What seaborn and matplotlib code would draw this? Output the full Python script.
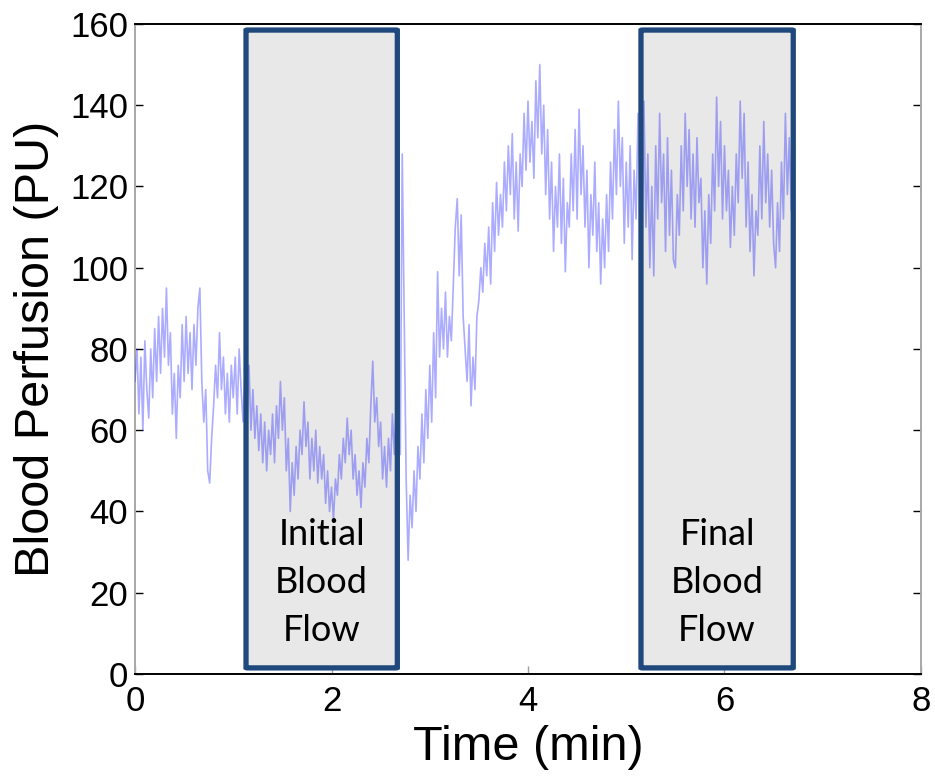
import numpy as np
import pandas as pd
import matplotlib
matplotlib.use("Agg")
import matplotlib.pyplot as plt
from matplotlib.patches import FancyBboxPatch
import seaborn as sns

# Laser-Doppler perfusion trace, sampled every 0.02 min, split into runs
SAMPLE_STEP = 0.02

baseline_start = 0.00
baseline = [72, 80, 64, 78, 60, 82, 70, 63, 80, 68, 85, 72, 88, 74, 90, 78, 95,
            76, 84, 64, 74, 58, 76, 68, 86,
            72, 88, 74, 84, 70, 86, 76, 90, 95, 72, 62, 70, 50, 47, 58, 66, 76,
            68, 84, 70, 78, 64, 74, 62, 76, 68, 78, 64, 80, 70, 62, 74]

occlusion_start = 1.14
occlusion = [62, 76, 60, 70, 58, 66, 55, 64, 52, 62, 50, 60, 54, 64, 52, 66, 58,
             72, 60, 68, 50, 58, 40, 52, 44, 56, 48, 60, 54, 67, 56, 62, 48, 58,
             50, 60, 47, 56, 48, 54, 42, 50, 40, 46, 38, 48, 44, 54, 48, 58, 52,
             63, 54, 60, 48, 54, 44, 50, 41, 52, 46, 58, 52, 66, 77, 62, 68, 56,
             62, 48, 56, 46, 58, 50, 64, 54, 68]

release_start = 2.68
release = [62, 54, 128, 89, 48, 28, 44, 36, 50, 40, 56, 48, 64, 52, 70, 58, 76,
           62, 84, 68, 99, 78, 90, 80, 94, 78, 88, 82, 96, 110, 117, 98, 113, 88,
           80, 72, 86, 66, 78, 70, 88]

hyperemia_start = 3.50
hyperemia = [92, 100, 94, 106, 98, 110, 96, 116, 104, 121, 108, 118, 110, 126,
             114, 130, 118, 133, 112, 126, 109, 128, 120, 138, 124, 141, 126, 136,
             122, 146, 132, 150, 128, 140, 118, 134, 112, 126, 104, 120, 110, 128,
             106, 122, 99, 116, 110, 128, 114, 134, 112, 139, 118, 130, 110, 124,
             100, 118, 108, 126, 104, 116, 96, 112, 100, 118, 104, 126, 112, 134,
             118, 141, 120, 132, 106, 126, 110, 130, 102, 124, 112, 138, 118]

plateau_start = 5.16
plateau = [104, 141, 110, 128, 100, 120, 98, 130, 112, 138, 116, 128, 104, 132,
           108, 124, 102, 100, 118, 108, 130, 114, 138, 120, 134, 112, 128, 110,
           132, 116, 122, 100, 114, 96, 118, 106, 128, 114, 142, 120, 136, 112,
           130, 114, 124, 105, 120, 108, 128, 116, 141, 122, 138, 110, 126, 104,
           118, 98, 114, 108, 130, 112, 136, 116, 128, 110, 124, 106, 100, 116,
           104, 126, 112, 138, 118, 132, 114]

# Shaded analysis windows (time span in min)
window_labels = ["Initial\nBlood\nFlow", "Final\nBlood\nFlow"]
window_starts = [1.13, 5.15]
window_ends = [2.67, 6.70]

x_ticks = [0, 2, 4, 6, 8]
y_ticks = [0, 20, 40, 60, 80, 100, 120, 140, 160]

runs = [(baseline_start, baseline), (occlusion_start, occlusion),
        (release_start, release), (hyperemia_start, hyperemia),
        (plateau_start, plateau)]
frames = []
for start, vals in runs:
    t = start + SAMPLE_STEP * np.arange(len(vals))
    frames.append(pd.DataFrame({"time": t, "perfusion": vals}))
trace = pd.concat(frames, ignore_index=True)

sns.set_theme(style="white")
plt.rcParams["font.family"] = ["Liberation Sans", "DejaVu Sans"]
plt.rcParams["text.color"] = "black"
plt.rcParams["axes.labelcolor"] = "black"

fig = plt.figure(figsize=(9.35, 7.78), dpi=100)
ax = fig.add_axes([0.1444, 0.1337, 0.8406, 0.8355])

for s, e, lab in zip(window_starts, window_ends, window_labels):
    fill = FancyBboxPatch((s, 1.5), e - s, 157.0,
                          boxstyle="round,pad=0,rounding_size=0.02",
                          facecolor="#E8E8E8", edgecolor="none", zorder=1,
                          mutation_aspect=4.0)
    ax.add_patch(fill)
    edge = FancyBboxPatch((s, 1.5), e - s, 157.0,
                          boxstyle="round,pad=0,rounding_size=0.02",
                          facecolor="none", edgecolor="#1F497D", linewidth=3.8,
                          zorder=4, mutation_aspect=4.0)
    ax.add_patch(edge)
    ax.text((s + e) / 2, 22.5, lab, ha="center", va="center", fontsize=26,
            family=["Lato", "DejaVu Sans"], linespacing=1.55, color="black",
            zorder=5)

sns.lineplot(data=trace, x="time", y="perfusion", ax=ax, sort=False,
             estimator=None, color="#3030FF", alpha=0.4, linewidth=1.2,
             zorder=3)

ax.set_xlim(0, 8)
ax.set_ylim(0, 160)
ax.set_xticks(x_ticks)
ax.set_yticks(y_ticks)
ax.set_xticklabels([str(v) for v in x_ticks])
ax.set_yticklabels([str(v) for v in y_ticks])
ax.tick_params(axis="both", labelsize=25, direction="in", length=6, width=1.0,
               colors="black")
ax.tick_params(axis="y", right=True, left=True, pad=5)
ax.tick_params(axis="x", bottom=True, top=False, pad=8, color="#A0A0A0")

ax.set_xlabel("Time (min)", fontsize=35, labelpad=5, color="black")
ax.set_ylabel("Blood Perfusion (PU)", fontsize=35, labelpad=8, color="black")

for side in ["top", "bottom"]:
    ax.spines[side].set_color("black")
    ax.spines[side].set_linewidth(1.4)
for side in ["left", "right"]:
    ax.spines[side].set_color("#A8A8A8")
    ax.spines[side].set_linewidth(1.4)

fig.savefig("out.png", dpi=100, facecolor="white")
